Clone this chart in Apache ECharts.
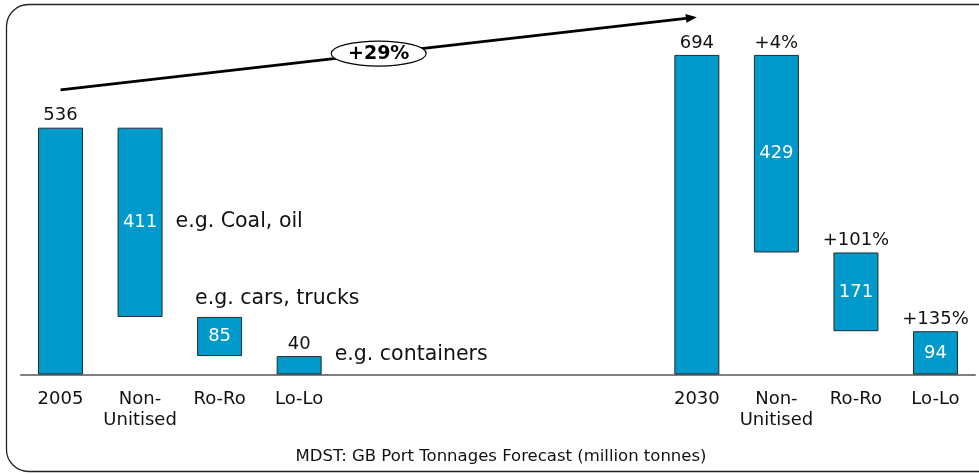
<!DOCTYPE html>
<html>
<head>
<meta charset="utf-8">
<script src="https://cdn.jsdelivr.net/npm/echarts@6/dist/echarts.min.js"></script>
<style>
html,body{margin:0;padding:0;background:#fff;}
#chart{width:979px;height:474px;}
</style>
</head>
<body>
<div id="chart"></div>
<script>
// ---- data ----
var categories = ['2005','Non-\nUnitised','Ro-Ro','Lo-Lo','','','','','2030','Non-\nUnitised','Ro-Ro','Lo-Lo'];
var baseValues = [0,125,40,0,'-','-','-','-',0,265,94,0];
var barValues  = [536,411,85,40,'-','-','-','-',694,429,171,94];
var topLabels  = ['536','','','40','','','','','694','+4%','+101%','+135%'];
var insideLabels = ['','411','85','','','','','','','429','171','94'];
var growthLabel = '+29%';
var arrowStart = [0, 618];
var arrowEnd = [8, 776];
var notes = [
  {text:'e.g. Coal, oil', idx:1, value:331, side:'right'},
  {text:'e.g. cars, trucks', idx:2, value:164, side:'left'},
  {text:'e.g. containers', idx:3, value:42, side:'right'}
];
var sourceText = 'MDST: GB Port Tonnages Forecast (million tonnes)';

var FONT = 'DejaVu Sans';
var BAR_COLOR = '#0099CC';

var chart = echarts.init(document.getElementById('chart'), null, {renderer:'canvas'});

var valueData = barValues.map(function(v,i){
  if (v === '-') return '-';
  var item = {value:v, label:{show:false}};
  if (insideLabels[i]) {
    item.label = {show:true, position:'inside', formatter:insideLabels[i], color:'#fff', fontSize:18, fontFamily:FONT};
  }
  return item;
});
var topData = barValues.map(function(v,i){
  if (v === '-') return '-';
  var item = {value:0, label:{show:false}};
  if (topLabels[i]) {
    item.label = {show:true, position:'top', distance:3, formatter:topLabels[i], color:'#111', fontSize:18, fontFamily:FONT};
  }
  return item;
});

var option = {
  animation:false,
  backgroundColor:'#fff',
  grid:{left:20.75, right:3.75, top:6.1, bottom:99.5, containLabel:false},
  xAxis:{
    type:'category',
    data:categories,
    axisLine:{show:true, lineStyle:{color:'#555', width:1.5}},
    axisTick:{show:false},
    axisLabel:{interval:0, color:'#111', fontSize:18, fontFamily:FONT, lineHeight:21, margin:14}
  },
  yAxis:{type:'value', min:0, max:800, show:false, splitLine:{show:false}},
  series:[
    {type:'bar', stack:'a', barWidth:45, data:baseValues,
     itemStyle:{color:'rgba(0,0,0,0)'}, silent:true},
    {type:'bar', stack:'a', barWidth:45, data:valueData,
     itemStyle:{color:BAR_COLOR, borderColor:'#2a2a2a', borderWidth:1}},
    {type:'bar', stack:'a', barWidth:45, data:topData,
     itemStyle:{color:'rgba(0,0,0,0)'}, silent:true}
  ]
};
chart.setOption(option);

function px(idx,val){ return chart.convertToPixel({gridIndex:0}, [idx,val]); }

var p0 = px(arrowStart[0], arrowStart[1]);
var p1 = px(arrowEnd[0], arrowEnd[1]);
var ang = Math.atan2(p1[1]-p0[1], p1[0]-p0[0]);
var L = 11, W = 4.5;
var tip = p1;
var back = [tip[0]-L*Math.cos(ang), tip[1]-L*Math.sin(ang)];
var h1 = [back[0]+W*Math.sin(ang), back[1]-W*Math.cos(ang)];
var h2 = [back[0]-W*Math.sin(ang), back[1]+W*Math.cos(ang)];
var mid = [(p0[0]+p1[0])/2, (p0[1]+p1[1])/2];

var barHalf = 22.5;
var graphics = [
  {type:'rect', shape:{x:6.5, y:4.5, width:1000, height:467, r:22},
   style:{fill:'none', stroke:'#222', lineWidth:1.3}, z:0},
  {type:'line', shape:{x1:p0[0], y1:p0[1], x2:back[0], y2:back[1]},
   style:{stroke:'#000', lineWidth:2.8}, z:10},
  {type:'polygon', shape:{points:[tip,h1,h2]}, style:{fill:'#000'}, z:10},
  {type:'ellipse', shape:{cx:mid[0], cy:mid[1], rx:47.5, ry:12.5},
   style:{fill:'#fff', stroke:'#000', lineWidth:1.2}, z:11},
  {type:'text', x:mid[0], y:mid[1]+1, style:{text:growthLabel, fill:'#000', font:'bold 19px "'+FONT+'"', textAlign:'center', textVerticalAlign:'middle'}, z:12},
  {type:'text', x:501, y:457, style:{text:sourceText, fill:'#111', font:'16.5px "'+FONT+'"', textAlign:'center', textVerticalAlign:'middle'}, z:12}
];
notes.forEach(function(n){
  var p = px(n.idx, n.value);
  var x = n.side === 'right' ? p[0] + barHalf + 13 : p[0] - barHalf - 2;
  graphics.push({type:'text', x:x, y:p[1], style:{text:n.text, fill:'#111', font:'20.5px "'+FONT+'"', textAlign:'left', textVerticalAlign:'middle'}, z:12});
});
chart.setOption({graphic:graphics});
</script>
</body>
</html>
